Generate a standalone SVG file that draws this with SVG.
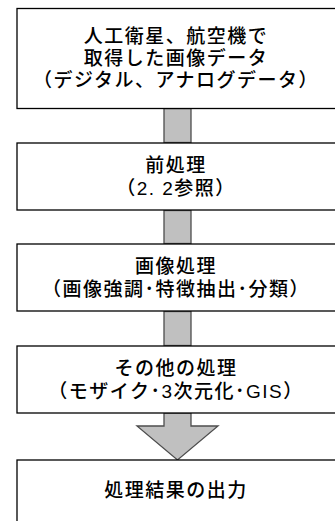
<svg xmlns="http://www.w3.org/2000/svg" width="335" height="521" viewBox="0 0 335 521">
<style>
.box{fill:#fff;stroke:#000;stroke-width:1.3}
.bar{fill:#c0c0c0;stroke:#4d4d4d;stroke-width:1.3}
text{font-family:"Liberation Sans","Noto Sans CJK JP",sans-serif;font-size:19px;font-weight:500;fill:#000;text-anchor:middle;letter-spacing:1.5px}
</style>
<rect width="335" height="521" fill="#fff"/>
<g id="connectors">
<rect class="bar" x="164" y="108.5" width="27" height="34"/>
<rect class="bar" x="164" y="210.5" width="27" height="33"/>
<rect class="bar" x="164" y="311.5" width="27" height="34"/>
<polygon class="bar" points="164,413 191,413 191,426 218,426 177.5,460 137,426 164,426"/>
</g>
<g id="node1">
<rect class="box" x="17" y="8.5" width="330" height="100"/>
<text x="176" y="43">人工衛星、航空機で</text>
<text x="176" y="65">取得した画像データ</text>
<text x="176" y="87">（デジタル、アナログデータ）</text>
</g>
<g id="node2">
<rect class="box" x="17" y="143" width="330" height="67"/>
<text x="176" y="172">前処理</text>
<text x="176" y="195">（2. 2参照）</text>
</g>
<g id="node3">
<rect class="box" x="17" y="244" width="330" height="67"/>
<text x="176" y="273">画像処理</text>
<text x="176" y="296">（画像強調･特徴抽出･分類）</text>
</g>
<g id="node4">
<rect class="box" x="17" y="346" width="330" height="67"/>
<text x="176" y="375">その他の処理</text>
<text x="176" y="398">（モザイク･3次元化･GIS）</text>
</g>
<g id="node5">
<rect class="box" x="17" y="460" width="330" height="70"/>
<text x="176" y="497">処理結果の出力</text>
</g>
</svg>
